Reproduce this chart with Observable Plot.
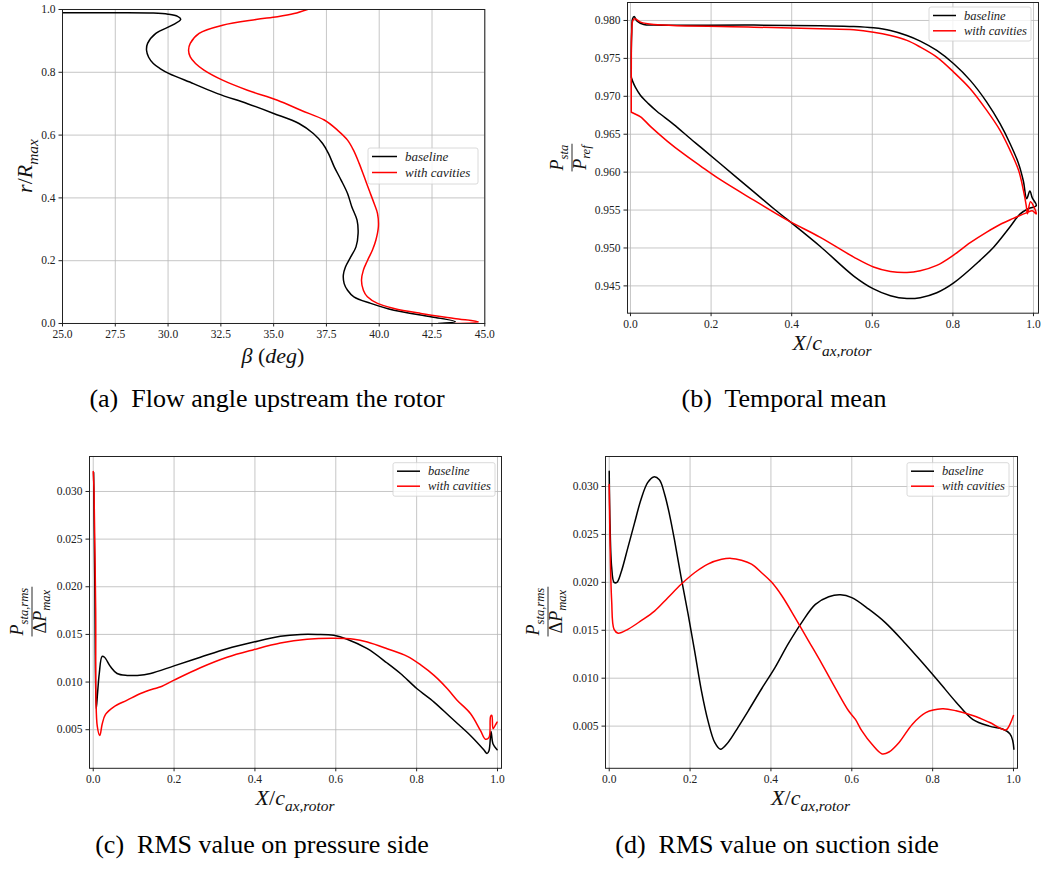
<!DOCTYPE html>
<html><head><meta charset="utf-8">
<script src="https://cdn.jsdelivr.net/npm/d3@7"></script>
<script src="https://cdn.jsdelivr.net/npm/@observablehq/plot@0.6"></script>
<style>
body{margin:0;background:#fff;}
#fig{position:relative;width:1045px;height:872px;overflow:hidden;background:#fff;}
#fig svg{position:absolute;}
</style></head><body><div id="fig"></div>
<script>
// ---------- data ----------
const seriesNames = ["baseline", "with cavities"];
const seriesColors = ["#000000", "#ff0000"];

// (a) flow angle upstream the rotor
const aBaseBeta = [42.8,43.6,42.5,40.7,39.6,38.8,38.5,38.34,38.3,38.4,38.65,38.9,39.0,38.95,38.7,38.5,38.2,37.87,37.6,37.32,36.88,36.2,35.0,33.76,32.34,31.2,30.05,29.62,29.3,29.08,28.98,29.03,29.42,30.2,30.6,30.45,30.0,29.3,27.5,25.0,23.0];
const aBaseR    = [0.0,0.006,0.021,0.042,0.064,0.085,0.106,0.127,0.154,0.18,0.212,0.244,0.287,0.329,0.372,0.414,0.456,0.499,0.541,0.573,0.605,0.637,0.669,0.70,0.732,0.764,0.796,0.812,0.828,0.848,0.870,0.892,0.924,0.95,0.969,0.978,0.985,0.9885,0.9895,0.990,0.9905];
const aCavBeta = [43.6,44.7,43.55,41.97,40.7,39.92,39.44,39.25,39.16,39.25,39.44,39.68,39.84,39.96,39.92,39.76,39.52,39.29,39.05,38.78,38.5,38.02,37.4,36.29,35.18,33.76,32.58,31.7,31.3,31.05,30.97,31.05,31.47,32.58,34.16,35.18,35.97,36.6];
const aCavR    = [0.0,0.005,0.016,0.032,0.048,0.064,0.085,0.106,0.138,0.17,0.2,0.234,0.265,0.308,0.35,0.382,0.425,0.467,0.51,0.552,0.584,0.616,0.648,0.679,0.711,0.743,0.775,0.807,0.828,0.849,0.870,0.892,0.924,0.95,0.968,0.977,0.987,1.0];
const aXTicks = [25,27.5,30,32.5,35,37.5,40,42.5,45];
const aYTicks = [0,0.2,0.4,0.6,0.8,1.0];

// (b) temporal mean of static pressure
const bBaseX = [0.002,0.002,0.003,0.005,0.009,0.0165,0.033,0.058,0.306,0.471,0.554,0.603,0.645,0.686,0.719,0.760,0.802,0.843,0.884,0.917,0.942,0.963,0.975,0.983,0.991,0.997,1.007,0.988,0.967,0.942,0.901,0.868,0.802,0.760,0.719,0.686,0.645,0.603,0.554,0.471,0.388,0.355,0.306,0.223,0.174,0.149,0.107,0.066,0.045,0.025,0.012,0.006,0.002];
const bBaseP = [0.9725,0.9760,0.9782,0.9802,0.98053,0.97991,0.97947,0.97939,0.97939,0.9793,0.97921,0.97903,0.97868,0.97802,0.97728,0.97605,0.97429,0.9721,0.96924,0.96639,0.96375,0.96112,0.9588,0.9565,0.9575,0.9566,0.9556,0.9552,0.9545,0.9528,0.9501,0.9484,0.9454,0.9441,0.94345,0.94333,0.9437,0.9446,0.9463,0.9502,0.9538,0.9552,0.9574,0.9611,0.9633,0.9644,0.9663,0.9680,0.9690,0.9701,0.9712,0.9719,0.9725];
const bCavX = [0.002,0.002,0.003,0.006,0.011,0.025,0.058,0.306,0.471,0.554,0.603,0.645,0.686,0.719,0.760,0.802,0.843,0.884,0.917,0.942,0.963,0.975,0.982,0.985,0.9925,1.007,0.997,0.985,0.950,0.917,0.884,0.843,0.800,0.760,0.719,0.686,0.645,0.603,0.554,0.471,0.388,0.306,0.223,0.174,0.132,0.091,0.050,0.025,0.010,0.002];
const bCavP = [0.9679,0.9740,0.9785,0.9800,0.98022,0.97978,0.97947,0.97912,0.9789,0.97877,0.97846,0.97802,0.97737,0.97649,0.97517,0.97319,0.9710,0.96814,0.96551,0.96287,0.96024,0.9576,0.9556,0.9545,0.9561,0.9545,0.9549,0.9547,0.9539,0.9531,0.9521,0.9507,0.9490,0.9477,0.9470,0.94676,0.9469,0.9475,0.9488,0.9514,0.9537,0.9563,0.9590,0.9608,0.9624,0.9641,0.9660,0.9673,0.9677,0.9679];
const bYTicks = [0.945,0.950,0.955,0.960,0.965,0.970,0.975,0.980];
const xTicks01 = [0,0.2,0.4,0.6,0.8,1.0];

// (c) RMS value on pressure side
const cBaseX = [0.001,0.004,0.0074,0.011,0.015,0.022,0.028,0.043,0.059,0.084,0.109,0.142,0.2,0.265,0.331,0.397,0.463,0.513,0.554,0.595,0.628,0.678,0.727,0.76,0.801,0.843,0.884,0.933,0.966,0.974,0.979,0.984,0.989,0.999];
const cBaseV = [0.032,0.020,0.0072,0.0090,0.0109,0.0127,0.0126,0.0116,0.0109,0.0107,0.0107,0.0109,0.0117,0.0126,0.0135,0.0142,0.0148,0.0150,0.0150,0.0149,0.0145,0.0135,0.0120,0.0109,0.0093,0.0079,0.0063,0.0044,0.0029,0.0025,0.0028,0.0048,0.0035,0.0029];
const cCavX = [0,0.002,0.006,0.0099,0.0164,0.0222,0.0304,0.051,0.084,0.117,0.150,0.167,0.2,0.265,0.331,0.397,0.463,0.529,0.595,0.645,0.678,0.727,0.777,0.81,0.843,0.876,0.9,0.933,0.958,0.970,0.979,0.983,0.986,0.989,0.995,0.999];
const cCavV = [0.0321,0.0300,0.0178,0.0054,0.0044,0.0056,0.0066,0.0074,0.0081,0.0088,0.0093,0.0095,0.0102,0.0115,0.0126,0.0134,0.0141,0.0145,0.0146,0.0145,0.0142,0.0135,0.0127,0.0118,0.0107,0.0093,0.0081,0.0067,0.0049,0.0040,0.0042,0.0064,0.0065,0.0051,0.0055,0.0058];

// (d) RMS value on suction side
const dBaseX = [0,0.002,0.006,0.012,0.019,0.029,0.046,0.062,0.079,0.095,0.11,0.124,0.137,0.149,0.162,0.178,0.195,0.211,0.228,0.244,0.261,0.275,0.294,0.319,0.344,0.377,0.41,0.443,0.476,0.51,0.543,0.572,0.6,0.642,0.683,0.733,0.775,0.816,0.858,0.899,0.94,0.973,0.991,0.998,1.001];
const dBaseV = [0.0316,0.0261,0.0216,0.0200,0.0200,0.0210,0.0236,0.0261,0.0287,0.0304,0.0310,0.0307,0.0292,0.0271,0.0243,0.0205,0.0167,0.0129,0.0087,0.0056,0.0033,0.0026,0.0033,0.0049,0.0066,0.0089,0.0111,0.0136,0.0158,0.0177,0.0185,0.0187,0.0184,0.0172,0.0158,0.0136,0.0116,0.0096,0.0075,0.0057,0.0050,0.0047,0.0042,0.0035,0.0026];
const dCavX = [0,0.002,0.006,0.012,0.022,0.046,0.079,0.112,0.145,0.178,0.211,0.244,0.278,0.302,0.327,0.352,0.377,0.402,0.427,0.46,0.493,0.526,0.559,0.592,0.609,0.625,0.65,0.675,0.692,0.717,0.75,0.783,0.824,0.858,0.899,0.94,0.981,0.989,1.0];
const dCavV = [0.0302,0.0243,0.0181,0.0151,0.0147,0.0151,0.0160,0.0170,0.0184,0.0198,0.0210,0.0219,0.0224,0.0225,0.0223,0.0219,0.0210,0.0200,0.0186,0.0163,0.0139,0.0115,0.0090,0.0066,0.0057,0.0045,0.0031,0.0021,0.0023,0.0033,0.0052,0.0064,0.0068,0.0066,0.0061,0.0054,0.0046,0.0050,0.0061];
const rmsYTicks = [0.005,0.010,0.015,0.020,0.025,0.030];

// ---------- drawing ----------
const fig = document.getElementById("fig");
const FONT = "'Liberation Serif', 'Times New Roman', serif";
const zip = (xs, ys) => xs.map((x, i) => ({x, y: ys[i]}));

function makePanel(cfg) {
  const m = {l: 62, r: 14, t: 12, b: 30};
  const w = cfg.R - cfg.L, h = cfg.B - cfg.T;
  const gridStyle = {stroke: "#b8b8b8", strokeOpacity: 1, strokeWidth: 0.8};
  const svg = Plot.plot({
    width: w + m.l + m.r, height: h + m.t + m.b,
    marginLeft: m.l, marginRight: m.r, marginTop: m.t, marginBottom: m.b,
    style: {fontFamily: FONT, fontSize: "11.5px", color: "#222", background: "transparent", overflow: "visible"},
    x: {domain: cfg.xDomain, label: null},
    y: {domain: cfg.yDomain, label: null},
    marks: [
      Plot.gridX(cfg.xTicks, gridStyle),
      Plot.gridY(cfg.yTicks, gridStyle),
      ...cfg.series.map((s, i) => Plot.line(zip(s[0], s[1]), {
        x: "x", y: "y", stroke: seriesColors[i], strokeWidth: 1.5,
        curve: "catmull-rom", clip: true
      })),
      Plot.axisX(cfg.xTicks, {tickSize: 3.5, tickPadding: 3, label: null, tickFormat: d => d.toFixed(cfg.xDigits)}),
      Plot.axisY(cfg.yTicks, {tickSize: 3.5, tickPadding: 3.5, label: null, tickFormat: d => d.toFixed(cfg.yDigits)}),
      Plot.frame({stroke: "#222", strokeWidth: 1})
    ]
  });
  svg.style.left = (cfg.L - m.l) + "px";
  svg.style.top = (cfg.T - m.t) + "px";
  fig.appendChild(svg);
}

makePanel({L: 61.7, R: 484, T: 9.3, B: 323.3, xDomain: [25, 45], yDomain: [0, 1],
  xTicks: aXTicks, yTicks: aYTicks, xDigits: 1, yDigits: 1,
  series: [[aBaseBeta, aBaseR], [aCavBeta, aCavR]]});
makePanel({L: 627, R: 1038, T: 2.3, B: 313, xDomain: [-0.0074, 1.0124], yDomain: [0.9414, 0.98237],
  xTicks: xTicks01, yTicks: bYTicks, xDigits: 1, yDigits: 3,
  series: [[bBaseX, bBaseP], [bCavX, bCavP]]});
makePanel({L: 89, R: 501, T: 455.7, B: 767.5, xDomain: [-0.0092, 1.0099], yDomain: [0.00095, 0.03367],
  xTicks: xTicks01, yTicks: rmsYTicks, xDigits: 1, yDigits: 3,
  series: [[cBaseX, cBaseV], [cCavX, cCavV]]});
makePanel({L: 604.5, R: 1016.5, T: 455.7, B: 767.5, xDomain: [-0.0092, 1.0099], yDomain: [0.0006, 0.03313],
  xTicks: xTicks01, yTicks: rmsYTicks, xDigits: 1, yDigits: 3,
  series: [[dBaseX, dBaseV], [dCavX, dCavV]]});

// ---------- overlay: labels, legends, captions ----------
const ov = d3.create("svg").attr("width", 1045).attr("height", 872)
  .style("left", "0px").style("top", "0px").style("pointer-events", "none");
fig.appendChild(ov.node());

function addMath(text, parts, fs) {
  let sub = false;
  for (const [s, k] of parts) {
    const t = text.append("tspan").text(s);
    if (k === "s") {
      t.attr("font-size", fs * 0.7).attr("font-style", "italic");
      if (!sub) t.attr("dy", fs * 0.25);
      sub = true;
    } else {
      t.attr("font-size", fs).attr("font-style", k === "i" ? "italic" : "normal");
      if (sub) t.attr("dy", -fs * 0.25);
      sub = false;
    }
  }
}
function mathLabel(x, y, parts, fs, rotate) {
  const t = ov.append("text").attr("text-anchor", "middle").attr("font-family", FONT).attr("fill", "#111")
    .attr("transform", `translate(${x},${y})` + (rotate ? " rotate(-90)" : ""));
  addMath(t, parts, fs);
}
function fraction(cx, cy, num, den, fs) {
  const g = ov.append("g").attr("transform", `translate(${cx},${cy}) rotate(-90)`).attr("font-family", FONT).attr("fill", "#111");
  const tn = g.append("text").attr("text-anchor", "middle").attr("y", -fs * 0.5);
  addMath(tn, num, fs);
  const td = g.append("text").attr("text-anchor", "middle").attr("y", fs * 0.75);
  addMath(td, den, fs);
  const w = Math.max(tn.node().getComputedTextLength(), td.node().getComputedTextLength());
  g.append("line").attr("x1", -w / 2 - 1).attr("x2", w / 2 + 1).attr("stroke", "#111").attr("stroke-width", 0.9);
}
function legend(x0, y0, w, h, lineLen, rowGap, fs) {
  ov.append("rect").attr("x", x0).attr("y", y0).attr("width", w).attr("height", h).attr("rx", 2)
    .attr("fill", "#fff").attr("fill-opacity", 0.8).attr("stroke", "#d0d0d0").attr("stroke-width", 0.8);
  seriesNames.forEach((name, i) => {
    const ly = y0 + 8.5 + i * rowGap;
    ov.append("line").attr("x1", x0 + 4).attr("x2", x0 + 4 + lineLen).attr("y1", ly).attr("y2", ly)
      .attr("stroke", seriesColors[i]).attr("stroke-width", 1.5);
    ov.append("text").attr("x", x0 + 4 + lineLen + 8).attr("y", ly + fs * 0.33).attr("font-family", FONT)
      .attr("font-style", "italic").attr("font-size", fs).attr("fill", "#222").text(name);
  });
}
function caption(x, y, str) {
  ov.append("text").attr("x", x).attr("y", y).attr("text-anchor", "middle").attr("font-family", FONT)
    .attr("font-size", 26).attr("fill", "#000").attr("xml:space", "preserve").text(str);
}

const xLab = [["X", "i"], ["/", "n"], ["c", "i"], ["ax,rotor", "s"]];
mathLabel(32, 166, [["r", "i"], ["/", "n"], ["R", "i"], ["max", "s"]], 22, true);
mathLabel(273, 363, [["β", "i"], [" (", "n"], ["deg", "i"], [")", "n"]], 22, false);
fraction(572, 157.6, [["P", "i"], ["sta", "s"]], [["P", "i"], ["ref", "s"]], 18);
mathLabel(832, 350, xLab, 22, false);
fraction(32, 611.6, [["P", "i"], ["sta,rms", "s"]], [["Δ", "n"], ["P", "i"], ["max", "s"]], 18);
mathLabel(295, 805, xLab, 22, false);
fraction(548, 611.6, [["P", "i"], ["sta,rms", "s"]], [["Δ", "n"], ["P", "i"], ["max", "s"]], 18);
mathLabel(810.5, 805, xLab, 22, false);

legend(368, 148, 110, 36, 25, 16, 13);
legend(929, 7, 102, 34, 23, 15.3, 12.5);
legend(393, 462.7, 102, 33.5, 23, 15, 12.5);
legend(907, 462.7, 102, 33.5, 23, 15, 12.5);

caption(267, 407, "(a)  Flow angle upstream the rotor");
caption(784, 407, "(b)  Temporal mean");
caption(262, 853, "(c)  RMS value on pressure side");
caption(777, 853, "(d)  RMS value on suction side");
</script></body></html>
